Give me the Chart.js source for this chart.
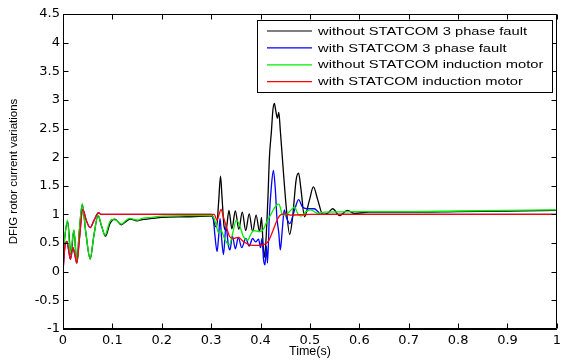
<!DOCTYPE html>
<html>
<head>
<meta charset="utf-8">
<script src="https://cdn.jsdelivr.net/npm/chart.js@4/dist/chart.umd.min.js"></script>
<style>
html,body{margin:0;padding:0;background:#fff;}
#wrap{width:565px;height:361px;position:relative;}
</style>
</head>
<body>
<div id="wrap"><canvas id="c" width="565" height="361"></canvas></div>
<script>
// ---- labels / ticks ----
const seriesLabels = [
  'without STATCOM 3 phase fault',
  'with STATCOM 3 phase fault',
  'without STATCOM induction motor',
  'with STATCOM induction motor'
];
const seriesColors = ['#000000', '#0000ff', '#00ee00', '#ff0000'];
const xTickValues = [0, 0.1, 0.2, 0.3, 0.4, 0.5, 0.6, 0.7, 0.8, 0.9, 1];
const xTickLabels = ['0', '0.1', '0.2', '0.3', '0.4', '0.5', '0.6', '0.7', '0.8', '0.9', '1'];
const yTickValues = [-1, -0.5, 0, 0.5, 1, 1.5, 2, 2.5, 3, 3.5, 4, 4.5];
const yTickLabels = ['-1', '-0.5', '0', '0.5', '1', '1.5', '2', '2.5', '3', '3.5', '4', '4.5'];
const xTitle = 'Time(s)';
const yTitle = 'DFIG rotor current variations';

// ---- series: without STATCOM 3 phase fault (black) ----
const blackT = [0, 0.003, 0.0095, 0.016, 0.022, 0.028, 0.033, 0.039, 0.046, 0.055, 0.062, 0.071, 0.078, 0.086, 0.095, 0.105, 0.118, 0.128, 0.136, 0.15, 0.16, 0.18, 0.2, 0.25, 0.3,
  0.303, 0.307, 0.311, 0.315, 0.319, 0.322, 0.326, 0.330, 0.336, 0.342, 0.349, 0.356, 0.363, 0.370, 0.377, 0.384, 0.391, 0.398, 0.402, 0.405, 0.408, 0.411,
  0.415, 0.418, 0.422, 0.425, 0.428, 0.431, 0.434, 0.437, 0.440, 0.445, 0.452, 0.459, 0.465, 0.472, 0.477, 0.482, 0.489, 0.499, 0.507, 0.516, 0.526, 0.536, 0.546, 0.560, 0.576, 0.590, 0.62, 0.7, 0.8, 0.9, 1.0];
const blackV = [0.2, 0.55, 0.88, 0.3, 0.72, 0.17, 0.7, 1.17, 0.7, 0.22, 0.6, 0.98, 0.8, 0.62, 0.84, 0.92, 0.82, 0.88, 0.92, 0.89, 0.91, 0.93, 0.95, 0.96, 0.97,
  0.96, 0.82, 0.78, 1.2, 1.67, 1.3, 0.8, 0.72, 1.07, 0.75, 1.06, 0.74, 1.04, 0.72, 1.01, 0.7, 0.99, 0.7, 0.95, 0.5, 0.25, 0.55,
  1.3, 2.0, 2.45, 2.82, 2.94, 2.8, 2.68, 2.78, 2.47, 1.89, 1.13, 0.65, 0.96, 1.6, 1.72, 1.43, 0.96, 1.25, 1.48, 1.25, 1.0, 1.02, 1.1, 0.98, 1.07, 1.02, 1.04, 1.04, 1.05, 1.06, 1.07];

// ---- series: with STATCOM 3 phase fault (blue) ----
const blueT = [0, 0.004, 0.008, 0.011, 0.015, 0.02, 0.024, 0.028, 0.033, 0.04, 0.047, 0.055, 0.063, 0.072, 0.077, 0.1, 0.3,
  0.304, 0.308, 0.312, 0.315, 0.318, 0.321, 0.325, 0.330, 0.335, 0.338, 0.343, 0.349, 0.355, 0.362, 0.370, 0.377, 0.384, 0.390, 0.396, 0.400, 0.403, 0.406, 0.409, 0.412, 0.414,
  0.418, 0.422, 0.426, 0.430, 0.433, 0.437, 0.440, 0.444, 0.448, 0.452, 0.459, 0.469, 0.477, 0.485, 0.496, 0.509, 0.516, 0.522, 0.53, 0.6, 1.0];
const blueV = [0, 0.45, 0.53, 0.4, 0.22, 0.42, 0.3, 0.15, 0.55, 1.09, 0.9, 0.77, 0.9, 1.03, 1.0, 1.0, 1.0,
  0.95, 0.6, 0.35, 0.6, 0.93, 0.6, 0.3, 0.8, 0.45, 0.38, 0.62, 0.4, 0.6, 0.42, 0.58, 0.45, 0.58, 0.52, 0.57, 0.42, 0.58, 0.22, 0.12, 0.45, 0.15,
  1.0, 1.5, 1.77, 1.43, 0.96, 0.67, 0.38, 0.73, 1.08, 0.96, 0.84, 1.08, 1.26, 1.13, 1.1, 1.1, 1.05, 1.0, 1.0, 1.0, 1.0];

// ---- series: without STATCOM induction motor (green) ----
const greenT = [0, 0.003, 0.009, 0.015, 0.022, 0.028, 0.033, 0.039, 0.046, 0.055, 0.062, 0.071, 0.078, 0.085, 0.094, 0.098, 0.108, 0.118, 0.128, 0.135, 0.152, 0.16, 0.18, 0.2, 0.25, 0.3,
  0.305, 0.310, 0.315, 0.320, 0.326, 0.332, 0.337, 0.343, 0.351, 0.358, 0.365, 0.374, 0.380, 0.386, 0.398, 0.405, 0.411, 0.422, 0.432, 0.437, 0.445, 0.452, 0.462, 0.469, 0.475, 0.482, 0.492, 0.502, 0.515, 0.53, 0.6, 0.7, 0.8, 0.9, 1.0];
const greenV = [0.2, 0.55, 0.9, 0.32, 0.73, 0.17, 0.7, 1.19, 0.7, 0.22, 0.6, 0.99, 0.8, 0.64, 0.86, 0.91, 0.9, 0.83, 0.9, 0.93, 0.9, 0.93, 0.95, 0.97, 0.98, 0.98,
  0.95, 0.82, 0.68, 0.72, 0.6, 0.5, 0.47, 0.65, 0.9, 0.8, 0.62, 0.55, 0.65, 0.72, 0.7, 0.73, 0.84, 1.02, 1.16, 1.18, 0.99, 1.0, 1.08, 1.13, 1.02, 0.97, 1.05, 1.08, 1.02, 1.04, 1.05, 1.05, 1.06, 1.07, 1.08];

// ---- series: with STATCOM induction motor (red) ----
const redT = [0, 0.004, 0.008, 0.011, 0.015, 0.02, 0.024, 0.028, 0.033, 0.04, 0.047, 0.055, 0.063, 0.072, 0.077, 0.1, 0.3,
  0.306, 0.312, 0.316, 0.320, 0.325, 0.331, 0.337, 0.345, 0.355, 0.365, 0.378, 0.392, 0.405, 0.415, 0.422, 0.428, 0.435, 0.442, 0.45, 0.46, 0.5, 1.0];
const redV = [0, 0.45, 0.53, 0.4, 0.22, 0.42, 0.3, 0.15, 0.55, 1.09, 0.9, 0.77, 0.9, 1.03, 1.0, 1.0, 1.0,
  1.0, 0.9, 1.0, 1.09, 0.95, 0.78, 0.62, 0.58, 0.6, 0.53, 0.47, 0.46, 0.47, 0.52, 0.65, 0.78, 0.93, 1.0, 1.01, 0.99, 1.0, 1.0];

// ---- build datasets ----
const seriesT = [blackT, blueT, greenT, redT];
const seriesV = [blackV, blueV, greenV, redV];
const drawOrder = [4, 3, 2, 1];
const datasets = seriesLabels.map((lab, k) => ({
  label: lab,
  data: seriesT[k].map((t, i) => ({ x: t, y: seriesV[k][i] })),
  borderColor: seriesColors[k],
  backgroundColor: seriesColors[k],
  borderWidth: 1.3,
  pointRadius: 0,
  cubicInterpolationMode: 'monotone',
  fill: false,
  order: drawOrder[k]
}));

// ---- frame with inward ticks on all four sides ----
const framePlugin = {
  id: 'frame',
  afterDraw(chart) {
    const { ctx, chartArea: { left, right, top, bottom }, scales: { x, y } } = chart;
    const L = Math.round(left) + 0.5, R = Math.round(right) - 0.5;
    const T = Math.round(top) + 0.5, B = Math.round(bottom) - 0.5;
    ctx.save();
    ctx.strokeStyle = '#000';
    ctx.lineWidth = 1;
    ctx.beginPath();
    ctx.moveTo(L, T); ctx.lineTo(R, T); ctx.lineTo(R, B); ctx.lineTo(L, B); ctx.closePath();
    const tl = 5;
    x.ticks.forEach(tk => {
      const px = Math.round(x.getPixelForValue(tk.value)) + 0.5;
      ctx.moveTo(px, B); ctx.lineTo(px, B - tl);
      ctx.moveTo(px, T); ctx.lineTo(px, T + tl);
    });
    y.ticks.forEach(tk => {
      const py = Math.round(y.getPixelForValue(tk.value)) + 0.5;
      ctx.moveTo(L, py); ctx.lineTo(L + tl, py);
      ctx.moveTo(R, py); ctx.lineTo(R - tl, py);
    });
    ctx.stroke();
    ctx.restore();
  }
};

// ---- legend box inside the plot (top right) ----
const legendPlugin = {
  id: 'boxLegend',
  afterDraw(chart) {
    const ctx = chart.ctx;
    const bx = 257.5, by = 20.5, bw = 295, bh = 72;
    ctx.save();
    ctx.fillStyle = '#fff';
    ctx.fillRect(bx, by, bw, bh);
    ctx.strokeStyle = '#000';
    ctx.lineWidth = 1;
    ctx.strokeRect(bx, by, bw, bh);
    ctx.font = '11.5px "Liberation Sans", Arial, sans-serif';
    const w0 = ctx.measureText(chart.data.datasets[0].label).width;
    const sx = 209 / w0;
    chart.data.datasets.forEach((ds, i) => {
      const ry = 31 + i * 16.9;
      ctx.strokeStyle = ds.borderColor;
      ctx.lineWidth = 1.2;
      ctx.beginPath();
      ctx.moveTo(267, ry); ctx.lineTo(312, ry);
      ctx.stroke();
      ctx.save();
      ctx.translate(318, ry);
      ctx.scale(sx, 1);
      ctx.fillStyle = '#000';
      ctx.textBaseline = 'middle';
      ctx.textAlign = 'left';
      ctx.fillText(ds.label, 0, 0.5);
      ctx.restore();
    });
    ctx.restore();
  }
};

const tickFont = { family: '"DejaVu Sans", sans-serif', size: 13 };

new Chart(document.getElementById('c'), {
  type: 'line',
  data: { datasets },
  options: {
    responsive: false,
    animation: false,
    devicePixelRatio: 1,
    layout: { padding: { top: 14, right: 7, left: 0, bottom: 0 } },
    plugins: { legend: { display: false }, tooltip: { enabled: false } },
    scales: {
      x: {
        type: 'linear', min: 0, max: 1,
        afterBuildTicks: s => { s.ticks = xTickValues.map(v => ({ value: v })); },
        afterFit: s => { s.height = 32; },
        ticks: { autoSkip: false, maxRotation: 0, padding: 4, color: '#000', font: tickFont,
                 callback: (v, i) => xTickLabels[i] },
        grid: { display: false, drawTicks: false },
        border: { display: true, color: '#000', width: 1 },
        title: { display: true, text: xTitle, color: '#000',
                 font: { family: '"Liberation Sans", Arial, sans-serif', size: 12.5 },
                 padding: { top: 0, bottom: 2 } }
      },
      y: {
        type: 'linear', min: -1, max: 4.5,
        afterBuildTicks: s => { s.ticks = yTickValues.map(v => ({ value: v })); },
        afterFit: s => { s.width = 63; },
        ticks: { autoSkip: false, padding: 3, color: '#000', font: tickFont,
                 callback: (v, i) => yTickLabels[i] },
        grid: { display: false, drawTicks: false },
        border: { display: true, color: '#000', width: 1 },
        title: { display: true, text: yTitle, color: '#000',
                 font: { family: '"Liberation Sans", Arial, sans-serif', size: 11.5 },
                 padding: { top: 7, bottom: 0 } }
      }
    }
  },
  plugins: [framePlugin, legendPlugin]
});
</script>
</body>
</html>
